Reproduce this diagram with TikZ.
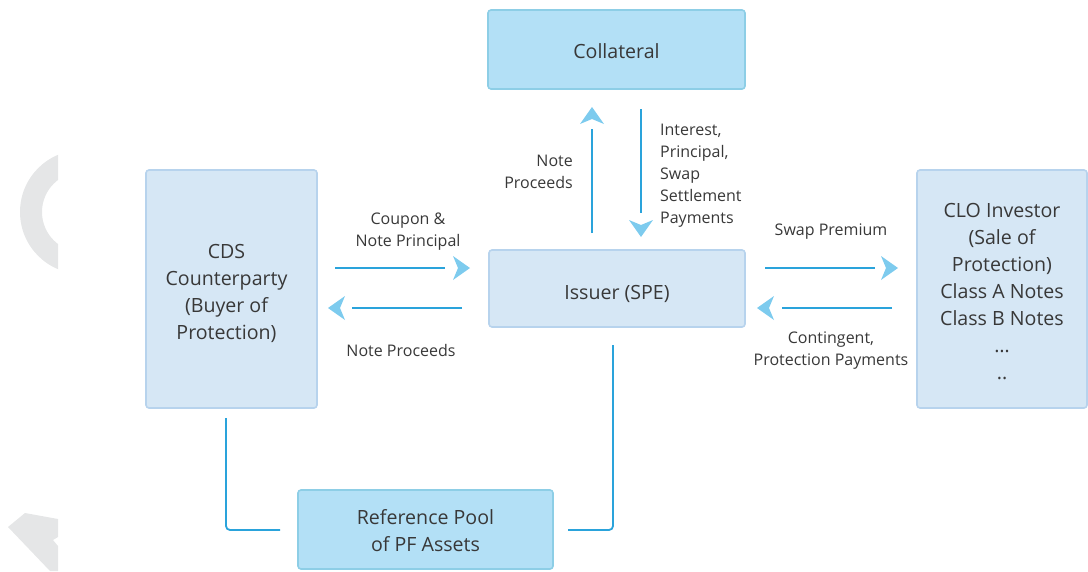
\documentclass[tikz,border=0pt]{standalone}
\usepackage{fontspec}
\setmainfont{Open Sans}
\definecolor{boxlight}{HTML}{D6E7F5}
\definecolor{boxlightb}{HTML}{B7D3ED}
\definecolor{boxdark}{HTML}{B3E0F6}
\definecolor{boxdarkb}{HTML}{8DCEE6}
\definecolor{linec}{HTML}{2AA3DB}
\definecolor{headc}{HTML}{7DCBEE}
\definecolor{txt}{HTML}{383838}
\definecolor{grayd}{HTML}{E5E6E7}
\begin{document}
\begin{tikzpicture}[x=1pt,y=-1pt,
  lbox/.style={draw=boxlightb,fill=boxlight,line width=1.6pt,rounded corners=3pt,inner sep=0pt},
  dbox/.style={draw=boxdarkb,fill=boxdark,line width=1.6pt,rounded corners=3pt,inner sep=0pt},
  btxt/.style={text=txt,align=center,inner sep=0pt,font=\fontsize{19.6}{27}\selectfont},
  lbl/.style={text=txt,inner sep=0pt,font=\fontsize{16}{22}\selectfont},
  flow/.style={draw=linec,line width=1.8pt},
  conn/.style={draw=linec,line width=1.8pt,rounded corners=4pt},
  pics/hdR/.style={code={\fill[headc] (0,0) -- (-17,-12) -- (-12,0) -- (-17,12) -- cycle;}},
  pics/hdL/.style={code={\fill[headc] (0,0) -- (17,-12) -- (12,0) -- (17,12) -- cycle;}},
  pics/hdU/.style={code={\fill[headc] (0,0) -- (-12,17) -- (0,12) -- (12,17) -- cycle;}},
  pics/hdD/.style={code={\fill[headc] (0,0) -- (-12,-17) -- (0,-12) -- (12,-17) -- cycle;}}
]
\useasboundingbox (0,0) rectangle (1088,571);
% grey decorations
\begin{scope}
\clip (0,0) rectangle (58,571);
\fill[grayd,even odd rule] (82,212) circle[radius=62pt] (82,212) circle[radius=40pt];
\fill[grayd] (8,527) -- (25,513) -- (58,519) -- (58,537) -- (53,540) -- (58,546) -- (58,571) -- (50,571) -- cycle;
\end{scope}
% boxes
\node[dbox,minimum width=257pt,minimum height=79pt,
  label={[btxt,yshift=-2pt]center:Collateral}] (col) at (616.5,49.5) {};
\node[lbox,minimum width=256pt,minimum height=77pt,
  label={[btxt,yshift=-5.5pt]center:Issuer (SPE)}] (iss) at (617,288.5) {};
\node[lbox,minimum width=171pt,minimum height=238pt,
  label={[btxt,yshift=-4pt,xshift=-5pt]center:CDS\\Counterparty\\(Buyer of\\Protection)}] (cds) at (231.5,289) {};
\node[lbox,minimum width=170pt,minimum height=238pt,
  label={[btxt,yshift=-3pt]center:CLO Investor\\(Sale of\\Protection)\\Class A Notes\\Class B Notes\\\dots\\..}] (clo) at (1002,289) {};
\node[dbox,minimum width=255pt,minimum height=79pt,
  label={[btxt,yshift=-1pt]center:Reference Pool\\of PF Assets}] (ref) at (425.5,529.5) {};
% arrows between CDS and issuer
\coordinate (a1s) at (335,268); \coordinate (a1e) at (445,268);
\draw[flow] (a1s) -- (a1e);
\pic at (470,268) {hdR};
\coordinate (a2s) at (462,308); \coordinate (a2e) at (352,308);
\draw[flow] (a2s) -- (a2e);
\pic at (328,308) {hdL};
% arrows issuer - collateral
\coordinate (a3s) at (592,233); \coordinate (a3e) at (592,129);
\draw[flow] (a3s) -- (a3e);
\pic at (592,107) {hdU};
\coordinate (a4s) at (641,109); \coordinate (a4e) at (641,213);
\draw[flow] (a4s) -- (a4e);
\pic at (641,237) {hdD};
% arrows issuer - CLO
\coordinate (a5s) at (765,268); \coordinate (a5e) at (875,268);
\draw[flow] (a5s) -- (a5e);
\pic at (898,268) {hdR};
\coordinate (a6s) at (892,308); \coordinate (a6e) at (782,308);
\draw[flow] (a6s) -- (a6e);
\pic at (757,308) {hdL};
% connectors to reference pool
\coordinate (c1s) at (226,418); \coordinate (c1e) at (280,530);
\draw[conn] (c1s) |- (c1e);
\coordinate (c2s) at (613,345); \coordinate (c2e) at (568,530);
\draw[conn] (c2s) |- (c2e);
% labels
\node[lbl,align=center] (l1) at (408,231.5) {Coupon \&\\Note Principal};
\node[lbl] (l2) at (401,350) {Note Proceeds};
\node[lbl,align=right,anchor=east] (l3) at (573,172) {Note\\Proceeds};
\node[lbl,align=left,anchor=west] (l4) at (660,175.5) {Interest,\\Principal,\\Swap\\Settlement\\Payments};
\node[lbl] (l5) at (831,232) {Swap Premium};
\node[lbl,align=center] (l6) at (831,351) {Contingent,\\Protection Payments};
\end{tikzpicture}
\end{document}
